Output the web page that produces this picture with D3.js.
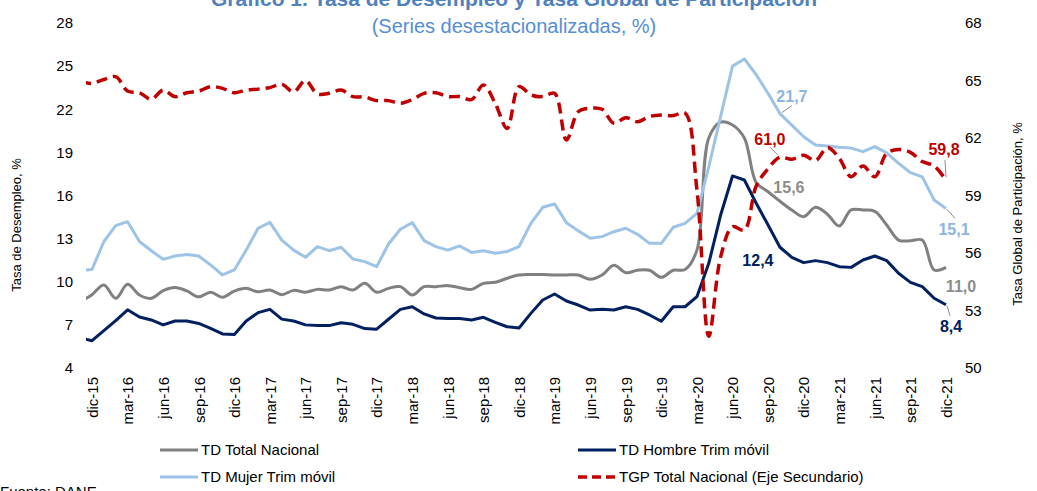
<!DOCTYPE html>
<html>
<head>
<meta charset="utf-8">
<script src="https://cdn.jsdelivr.net/npm/d3@7"></script>
<style>
  body { margin: 0; background: #fff; }
  svg { display: block; font-family: "Liberation Sans", Arial, sans-serif; }
</style>
</head>
<body>
<div id="graph"></div>
<script>
// categories: nov-15 ... dic-21 (monthly)
var mesAbbr = ["ene","feb","mar","abr","may","jun","jul","ago","sep","oct","nov","dic"];
var months = ["nov-15"];
for (var yr = 15; yr <= 21; yr++) {
	for (var mi = 0; mi < 12; mi++) {
		if (yr == 15) { if (mi == 11) months.push("dic-15"); continue; }
		months.push(mesAbbr[mi] + "-" + yr);
	}
}
var tickLabels = ["dic-15","mar-16","jun-16","sep-16","dic-16","mar-17","jun-17","sep-17","dic-17",
	"mar-18","jun-18","sep-18","dic-18","mar-19","jun-19","sep-19","dic-19","mar-20","jun-20",
	"sep-20","dic-20","mar-21","jun-21","sep-21","dic-21"];
var leftTicks = [4, 7, 10, 13, 16, 19, 22, 25, 28];
var rightTicks = [50, 53, 56, 59, 62, 65, 68];

// series values (nov-15 first)
var tdTotal = [8.6, 9.1, 9.77, 8.85, 9.82, 9.08, 8.85, 9.38, 9.6, 9.36, 8.95, 9.27, 8.92, 9.35,
	9.54, 9.3, 9.43, 9.1, 9.4, 9.27, 9.47, 9.43, 9.66, 9.43, 9.89, 9.27,
	9.54, 9.66, 9.08, 9.66, 9.66, 9.73, 9.59, 9.47, 9.89, 9.96, 10.24, 10.47,
	10.5, 10.5, 10.47, 10.47, 10.47, 10.17, 10.47, 11.14, 10.63, 10.8, 10.8, 10.31,
	10.8, 10.85, 12.2, 20.0, 21.1, 20.9, 20.0, 16.9, 16.26, 15.6, 14.99, 14.53,
	15.18, 14.7, 13.88, 15.0, 14.99, 14.9, 13.95, 12.9, 12.85, 12.9, 10.82, 11.0];
var tdHombre = [6.1, 5.9, 6.6, 7.3, 8.05, 7.55, 7.34, 7.0, 7.27, 7.27, 7.1, 6.75, 6.37, 6.33,
	7.27, 7.85, 8.08, 7.4, 7.27, 7.0, 6.95, 6.95, 7.15, 7.04, 6.74, 6.7,
	7.39, 8.08, 8.26, 7.76, 7.48, 7.45, 7.45, 7.34, 7.53, 7.18, 6.87, 6.78,
	7.8, 8.73, 9.15, 8.66, 8.38, 8.03, 8.08, 8.03, 8.26, 8.08, 7.69, 7.25,
	8.26, 8.26, 8.96, 11.28, 14.64, 17.36, 17.08, 15.46, 13.95, 12.4, 11.7, 11.33,
	11.47, 11.33, 11.05, 11.0, 11.51, 11.79, 11.47, 10.59, 9.96, 9.66, 8.85, 8.4];
var tdMujer = [10.8, 10.85, 12.8, 13.9, 14.18, 12.8, 12.16, 11.56, 11.79, 11.9, 11.79, 11.17, 10.47, 10.82,
	12.2, 13.72, 14.13, 12.9, 12.2, 11.7, 12.44, 12.16, 12.4, 11.58, 11.4, 11.05,
	12.63, 13.65, 14.11, 12.86, 12.44, 12.2, 12.49, 12.04, 12.16, 11.98, 12.1, 12.44,
	14.06, 15.18, 15.41, 14.11, 13.54, 13.02, 13.14, 13.48, 13.72, 13.3, 12.67, 12.67,
	13.79, 14.06, 14.76, 18.0, 21.5, 25.0, 25.5, 24.4, 23.1, 21.7, 20.9, 20.09,
	19.51, 19.45, 19.35, 19.3, 19.05, 19.4, 18.97, 18.24, 17.59, 17.3, 15.69, 15.1];
var tgp = [64.95, 64.85, 65.05, 65.2, 64.45, 64.36, 64.02, 64.5, 64.16, 64.36, 64.45, 64.68, 64.59, 64.36,
	64.5, 64.55, 64.63, 64.8, 64.4, 65.0, 64.3, 64.33, 64.5, 64.16, 64.14, 63.95,
	63.95, 63.81, 64.0, 64.33, 64.36, 64.16, 64.16, 64.0, 64.77, 63.8, 62.5, 64.68,
	64.25, 64.16, 64.33, 61.9, 63.37, 63.55, 63.5, 62.77, 63.06, 62.85, 63.12, 63.2,
	63.17, 63.3, 59.3, 51.65, 55.8, 57.37, 57.2, 59.5, 60.4, 61.0, 60.89, 61.1,
	60.82, 61.5, 60.94, 59.98, 60.54, 59.98, 61.2, 61.4, 61.25, 60.77, 60.54, 59.8];

var series = [
	{ name: "TD Total Nacional", values: tdTotal, color: "#808080", axis: "left", curve: d3.curveCatmullRom.alpha(0.5) },
	{ name: "TD Mujer Trim móvil", values: tdMujer, color: "#9DC3E6", axis: "left", curve: d3.curveLinear },
	{ name: "TD Hombre Trim móvil", values: tdHombre, color: "#002060", axis: "left", curve: d3.curveLinear },
	{ name: "TGP Total Nacional (Eje Secundario)", values: tgp, color: "#C00000", axis: "right", curve: d3.curveCatmullRom.alpha(0.5), dash: "11,6" }
];

var width = 1037, height = 491;
var svg = d3.select("div#graph").append("svg")
	.attr("width", width)
	.attr("height", height);

// scales
var step = (946 - 92) / 72;
var xScale = d3.scalePoint().domain(months).range([92 - step, 946]);
var yLeft = d3.scaleLinear().domain([4, 28]).range([368, 23]);
var yRight = d3.scaleLinear().domain([50, 68]).range([368, 23]);

// title (cut off at top like the source)
svg.append("text")
	.attr("x", 514).attr("y", 6)
	.attr("text-anchor", "middle")
	.style("font-size", "21px").style("font-weight", "bold")
	.style("fill", "#4F81BD")
	.text("Gráfico 1. Tasa de Desempleo y Tasa Global de Participación");
svg.append("text")
	.attr("x", 514).attr("y", 33)
	.attr("text-anchor", "middle")
	.style("font-size", "20px")
	.style("fill", "#558ED5")
	.text("(Series desestacionalizadas, %)");

// axes
var gl = svg.append("g")
	.attr("transform", "translate(86,0)")
	.call(d3.axisLeft(yLeft).tickValues(leftTicks).tickSize(0).tickPadding(13));
var gr = svg.append("g")
	.attr("transform", "translate(952,0)")
	.call(d3.axisRight(yRight).tickValues(rightTicks).tickSize(0).tickPadding(13));
var gx = svg.append("g")
	.attr("transform", "translate(0,370)")
	.call(d3.axisBottom(xScale).tickValues(tickLabels).tickSize(0));
[gl, gr, gx].forEach(function(g) {
	g.attr("font-family", null).attr("font-size", null);
	g.select(".domain").remove();
	g.selectAll("text").style("font-size", "15px").style("fill", "#000");
});
gx.selectAll("text")
	.attr("transform", "rotate(-90)")
	.attr("text-anchor", "end")
	.attr("x", -7).attr("y", 0).attr("dy", "0.35em");

// axis titles
svg.append("text")
	.attr("transform", "translate(21,225) rotate(-90)")
	.attr("text-anchor", "middle")
	.style("font-size", "13px")
	.text("Tasa de Desempleo, %");
svg.append("text")
	.attr("transform", "translate(1022,214) rotate(-90)")
	.attr("text-anchor", "middle")
	.style("font-size", "13px")
	.text("Tasa Global de Participación, %");

// clip
svg.append("clipPath").attr("id", "plotclip")
	.append("rect").attr("x", 86).attr("y", 0).attr("width", 870).attr("height", 400);

var plot = svg.append("g").attr("clip-path", "url(#plotclip)");
series.forEach(function(s) {
	var yS = s.axis == "left" ? yLeft : yRight;
	var line = d3.line()
		.x(function(d, i) { return xScale(months[i]); })
		.y(function(d) { return yS(d); })
		.curve(s.curve);
	plot.append("path")
		.attr("d", line(s.values))
		.attr("fill", "none")
		.attr("stroke", s.color)
		.attr("stroke-width", s.dash ? 3.5 : 3)
		.attr("stroke-dasharray", s.dash || null)
		.attr("stroke-linejoin", "round");
});

// data labels
var labels = [
	{ s: tdMujer, axis: yLeft, m: "oct-20", text: "21,7", color: "#8DB4E2", dx: 12, dy: -17, lead: [[2, -1], [12, -8]] },
	{ s: tgp, axis: yRight, m: "oct-20", text: "61,0", color: "#C00000", dx: -10, dy: -18, lead: [[-10, -10], [-2, -2]] },
	{ s: tdTotal, axis: yLeft, m: "oct-20", text: "15,6", color: "#8C8C8C", dx: 9, dy: -14 },
	{ s: tdHombre, axis: yLeft, m: "oct-20", text: "12,4", color: "#002060", dx: -22, dy: 13 },
	{ s: tgp, axis: yRight, m: "dic-21", text: "59,8", color: "#C00000", dx: -2, dy: -31, lead: [[-1, -20], [0, -3]] },
	{ s: tdMujer, axis: yLeft, m: "dic-21", text: "15,1", color: "#8DB4E2", dx: 8, dy: 21, lead: [[1, 1], [9, 10]] },
	{ s: tdTotal, axis: yLeft, m: "dic-21", text: "11,0", color: "#8C8C8C", dx: 15, dy: 19 },
	{ s: tdHombre, axis: yLeft, m: "dic-21", text: "8,4", color: "#002060", dx: 5, dy: 22, lead: [[1, 1], [4, 11]] }
];
labels.forEach(function(l) {
	var px = xScale(l.m), py = l.axis(l.s[months.indexOf(l.m)]);
	if (l.lead) {
		svg.append("line")
			.attr("x1", px + l.lead[0][0]).attr("y1", py + l.lead[0][1])
			.attr("x2", px + l.lead[1][0]).attr("y2", py + l.lead[1][1])
			.attr("stroke", "#8C8C8C").attr("stroke-width", 1);
	}
	svg.append("text")
		.attr("x", px + l.dx).attr("y", py + l.dy)
		.attr("dy", "0.35em")
		.attr("text-anchor", "middle")
		.style("font-size", "16px").style("font-weight", "bold")
		.style("fill", l.color)
		.text(l.text);
});

// legend
var legendItems = [
	{ s: series[0], x: 160, y: 450 },
	{ s: series[1], x: 160, y: 477 },
	{ s: series[2], x: 578, y: 450 },
	{ s: series[3], x: 578, y: 477 }
];
var lg = svg.append("g");
legendItems.forEach(function(it) {
	lg.append("line")
		.attr("x1", it.x).attr("x2", it.x + 38)
		.attr("y1", it.y).attr("y2", it.y)
		.attr("stroke", it.s.color)
		.attr("stroke-width", it.s.dash ? 3.5 : 3)
		.attr("stroke-dasharray", it.s.dash ? "9,5" : null);
	lg.append("text")
		.attr("x", it.x + 41).attr("y", it.y)
		.attr("dy", "0.35em")
		.style("font-size", "15px")
		.text(it.s.name);
});

svg.append("text")
	.attr("x", 0).attr("y", 497)
	.style("font-size", "15px")
	.text("Fuente: DANE");
</script>
</body>
</html>
